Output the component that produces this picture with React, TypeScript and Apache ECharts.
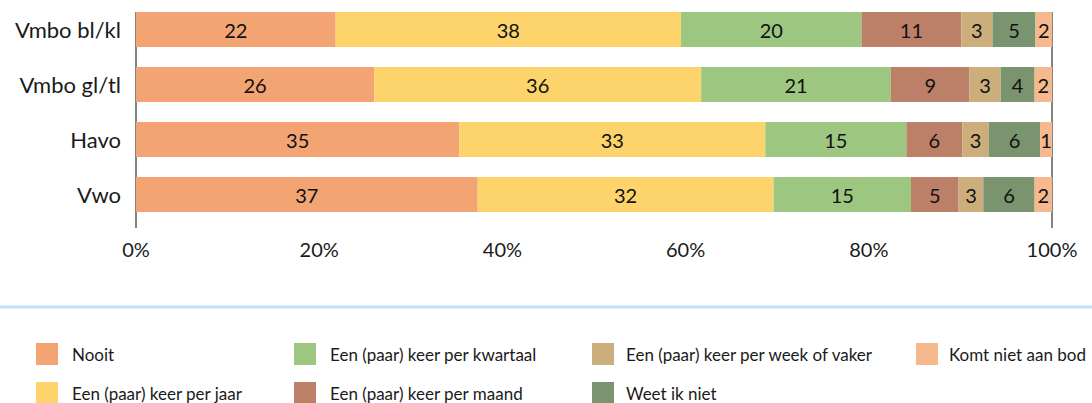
import React, { useEffect, useRef } from "react";
import * as echarts from "echarts";

const categories = ["Vmbo bl/kl", "Vmbo gl/tl", "Havo", "Vwo"];
const seriesNames = [
  "Nooit",
  "Een (paar) keer per jaar",
  "Een (paar) keer per kwartaal",
  "Een (paar) keer per maand",
  "Een (paar) keer per week of vaker",
  "Weet ik niet",
  "Komt niet aan bod",
];
const nooit = [21.8, 26.0, 35.3, 37.3];
const perJaar = [37.7, 35.7, 33.4, 32.3];
const perKwartaal = [19.7, 20.7, 15.4, 15.0];
const perMaand = [10.9, 8.6, 6.1, 5.2];
const perWeek = [3.4, 3.4, 2.9, 2.7];
const weetIkNiet = [4.7, 3.7, 5.6, 5.6];
const komtNiet = [1.8, 1.9, 1.3, 1.9];
const seriesValues = [nooit, perJaar, perKwartaal, perMaand, perWeek, weetIkNiet, komtNiet];
const colors = ["#F3A473", "#FDD36C", "#9DC781", "#BC8068", "#CBAE7C", "#7A9470", "#F6B88D"];
const xTicks = [0, 20, 40, 60, 80, 100];

const legendColumns = [
  { names: [seriesNames[0], seriesNames[1]], left: 36, pad: 9 },
  { names: [seriesNames[2], seriesNames[3]], left: 294, pad: 9 },
  { names: [seriesNames[4], seriesNames[5]], left: 592, pad: 7 },
  { names: [seriesNames[6]], left: 916, pad: 6 },
];

const FONT = "Lato";
const BAR_WIDTH = 35;

export default function App() {
  const ref = useRef<HTMLDivElement>(null);
  useEffect(() => {
    document.body.style.margin = "0";
    const chart = echarts.init(ref.current!, null, { renderer: "svg" });
    const option: any = {
      animation: false,
      textStyle: { fontFamily: FONT },
      color: colors,
      grid: { left: 136, right: 40, top: 2, height: 220 },
      xAxis: {
        type: "value",
        min: xTicks[0],
        max: xTicks[xTicks.length - 1],
        interval: 20,
        axisLine: { show: false },
        axisTick: { show: false },
        splitLine: { show: false },
        axisLabel: {
          formatter: "{value}%",
          fontSize: 20,
          color: "#1a1a1a",
          margin: 17,
          fontFamily: FONT,
        },
      },
      yAxis: {
        type: "category",
        inverse: true,
        data: categories,
        axisLine: { show: false },
        axisTick: { show: false },
        axisLabel: { fontSize: 22, color: "#1a1a1a", margin: 15, fontFamily: FONT },
      },
      legend: legendColumns.map((col) => ({
        orient: "vertical",
        left: col.left,
        top: 343,
        height: 100,
        padding: 0,
        itemWidth: 22,
        itemHeight: 22,
        itemGap: 17,
        icon: "rect",
        selectedMode: false,
        data: col.names,
        textStyle: {
          fontSize: 17,
          color: "#1a1a1a",
          fontFamily: FONT,
          padding: [0, 0, 0, col.pad],
        },
      })),
      series: seriesNames.map((name, i) => ({
        name,
        type: "bar",
        stack: "total",
        barWidth: BAR_WIDTH,
        data: seriesValues[i],
        itemStyle: { color: colors[i] },
        label: {
          show: true,
          position: "inside",
          color: "#111",
          fontSize: 20,
          fontFamily: FONT,
          formatter: (p: any) => String(Math.round(p.value)),
        },
      })),
    };
    chart.setOption(option);

    const x0 = chart.convertToPixel({ xAxisIndex: 0 }, xTicks[0]) as number;
    const x100 = chart.convertToPixel({ xAxisIndex: 0 }, xTicks[xTicks.length - 1]) as number;
    const yFirst = chart.convertToPixel({ yAxisIndex: 0 }, categories[0]) as number;
    const yLast = chart.convertToPixel({ yAxisIndex: 0 }, categories[categories.length - 1]) as number;
    const yTop = yFirst - BAR_WIDTH / 2;
    const yBot = yLast + BAR_WIDTH / 2 + 16;

    chart.setOption({
      graphic: [
        {
          type: "line",
          shape: { x1: x0, y1: yTop, x2: x0, y2: yBot },
          style: { stroke: "#333", lineWidth: 1.2 },
          silent: true,
        },
        {
          type: "line",
          shape: { x1: x100, y1: yTop, x2: x100, y2: yBot },
          style: { stroke: "#333", lineWidth: 1.2 },
          silent: true,
        },
        {
          type: "line",
          shape: { x1: 0, y1: 307, x2: 1092, y2: 307 },
          style: { stroke: "#BDE3F6", lineWidth: 3 },
          silent: true,
        },
      ],
    });

    return () => chart.dispose();
  }, []);
  return <div ref={ref} style={{ width: 1092, height: 403 }} />;
}
